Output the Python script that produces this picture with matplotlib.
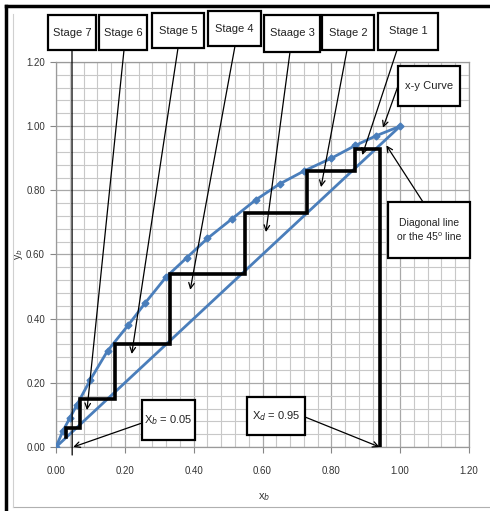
import numpy as np
import matplotlib
matplotlib.use("Agg")
import matplotlib.pyplot as plt
from matplotlib.patches import Rectangle
from matplotlib.ticker import MultipleLocator, FormatStrFormatter

plt.rcParams["font.family"] = ["Liberation Sans", "DejaVu Sans"]

# equilibrium x-y curve
curve_x = [0.00, 0.02, 0.04, 0.06, 0.10, 0.15, 0.21, 0.26, 0.32, 0.38, 0.44,
           0.51, 0.58, 0.65, 0.72, 0.80, 0.87, 0.93, 1.00]
curve_y = [0.00, 0.05, 0.09, 0.13, 0.21, 0.30, 0.38, 0.45, 0.53, 0.59, 0.65,
           0.71, 0.77, 0.82, 0.86, 0.90, 0.94, 0.97, 1.00]

# diagonal (45 degree) line
diag = [0.0, 1.0]

# staircase corners
stair_x = [0.94, 0.87, 0.73, 0.55, 0.33, 0.17, 0.07, 0.03]
stair_y = [0.93, 0.86, 0.73, 0.54, 0.32, 0.15, 0.06, 0.03]

stage_labels = ["Stage 1", "Stage 2", "Staage 3", "Stage 4", "Stage 5", "Stage 6", "Stage 7"]
# arrow tips of the stage labels (data units)
stage_tip_x = [0.89, 0.77, 0.61, 0.39, 0.22, 0.09, 0.047]
stage_tip_y = [0.91, 0.81, 0.67, 0.49, 0.29, 0.115, -0.025]

x_b = 0.05
x_d = 0.95

W, H = 490, 511
BLUE = "#4A7EBB"


def ff(px, py):
    # pixel (top-left origin) -> figure fraction
    return px / W, 1 - py / H


fig = plt.figure(figsize=(4.9, 5.11), dpi=100)
ax = fig.add_axes([56 / W, 1 - 447 / H, (469 - 56) / W, (447 - 62) / H])

# staircase path
path_x = [stair_x[0]]
path_y = [0.0]
for i in range(len(stair_y) - 1):
    path_x += [stair_x[i], stair_x[i + 1]]
    path_y += [stair_y[i], stair_y[i]]
path_x.append(stair_x[-1])
path_y.append(stair_y[-1])

ax.plot(diag, diag, color=BLUE, lw=2, zorder=3)
ax.plot(curve_x, curve_y, color=BLUE, lw=2, marker="D", ms=3.5, zorder=3)
ax.plot(path_x, path_y, color="black", lw=2.6, zorder=4, solid_joinstyle="miter")

ax.set_xlim(0, 1.2)
ax.set_ylim(0, 1.2)
ax.xaxis.set_major_locator(MultipleLocator(0.2))
ax.yaxis.set_major_locator(MultipleLocator(0.2))
ax.xaxis.set_minor_locator(MultipleLocator(0.04))
ax.yaxis.set_minor_locator(MultipleLocator(0.04))
ax.xaxis.set_major_formatter(FormatStrFormatter("%.2f"))
ax.yaxis.set_major_formatter(FormatStrFormatter("%.2f"))
ax.grid(which="major", color="#a8a8a8", lw=0.9)
ax.grid(which="minor", color="#c8c8c8", lw=0.8)
ax.set_axisbelow(True)
ax.tick_params(which="minor", length=0)
ax.tick_params(which="major", length=4, color="#868686", labelsize=7, colors="#333333")
ax.tick_params(axis="x", pad=10)
ax.tick_params(axis="y", pad=4)
for s in ax.spines.values():
    s.set_color("#9a9a9a")
    s.set_linewidth(0.9)

fig.text(*ff(264, 497), "x$_b$", ha="center", va="center", fontsize=8, color="#333333")
fig.text(*ff(19, 254), "y$_b$", ha="center", va="center", fontsize=7.5, rotation=90,
         color="#333333")


def box(x0, y0, x1, y1, text, fs=8):
    fx0, fy1 = ff(x0, y0)
    fx1, fy0 = ff(x1, y1)
    fig.patches.append(Rectangle((fx0, fy0), fx1 - fx0, fy1 - fy0, transform=fig.transFigure,
                                 facecolor="white", edgecolor="black", lw=1.6, zorder=5))
    fig.text((fx0 + fx1) / 2, (fy0 + fy1) / 2, text, ha="center", va="center",
             fontsize=fs, zorder=6, color="#222222", linespacing=1.6)


def arrow(start_px, tip, head=True):
    ax.annotate("", xy=tip, xycoords="data", xytext=ff(*start_px), textcoords="figure fraction",
                annotation_clip=False,
                arrowprops=dict(arrowstyle="->" if head else "-", color="black", lw=0.9,
                                shrinkA=0, shrinkB=0, mutation_scale=10))


# stage label boxes (top-left x, y, bottom-right x, y in pixels)
boxes = [(378, 13, 438, 50), (322, 15, 374, 50), (264, 15, 320, 52), (208, 11, 261, 46),
         (152, 13, 204, 48), (99, 15, 147, 50), (48, 15, 96, 50)]
starts = [(397, 50), (347, 50), (290, 52), (235, 46), (178, 48), (124, 50), (72, 50)]
for i, lab in enumerate(stage_labels):
    arrow(starts[i], (stage_tip_x[i], stage_tip_y[i]), head=(i < 6))
    box(*boxes[i], lab)

box(398, 66, 460, 106, "x-y Curve")
arrow((398, 86), (0.95, 0.995))

box(388, 202, 470, 258, "Diagonal line\nor the 45\u2070 line", fs=7.5)
arrow((423, 202), (0.96, 0.94))

box(142, 400, 195, 440, "X$_b$ = 0.05")
arrow((142, 423), (x_b, 0.0))

box(247, 397, 305, 435, "X$_d$ = 0.95")
arrow((305, 417), (x_d - 0.01, 0.0))

# outer frame lines
fig.add_artist(plt.Line2D([6 / W, 6 / W], [0, 1 - 6 / H], transform=fig.transFigure,
                          color="black", lw=2.5))
fig.add_artist(plt.Line2D([6 / W, 1], [1 - 6 / H, 1 - 6 / H], transform=fig.transFigure,
                          color="black", lw=2.5))
fig.add_artist(plt.Line2D([13 / W, 1], [1 - 507 / H, 1 - 507 / H], transform=fig.transFigure,
                          color="#b0b0b0", lw=0.8))
fig.add_artist(plt.Line2D([13 / W, 13 / W], [1 - 507 / H, 1 - 14 / H], transform=fig.transFigure,
                          color="#d0d0d0", lw=0.8))

fig.savefig("out.png", dpi=100)
